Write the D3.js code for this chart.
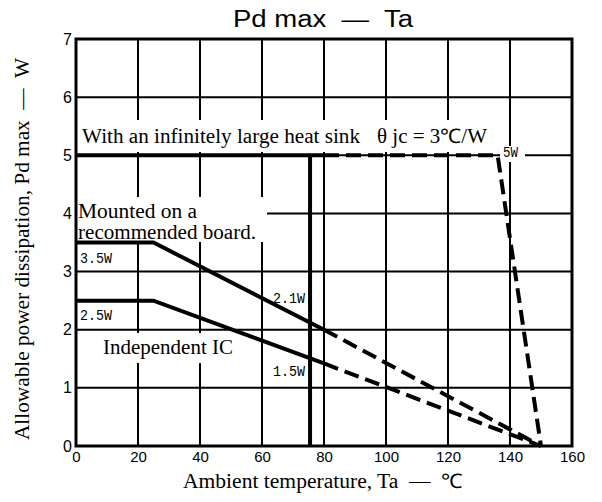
<!DOCTYPE html>
<html>
<head>
<meta charset="utf-8">
<script src="https://cdn.jsdelivr.net/npm/d3@7/dist/d3.min.js"></script>
<style>
  body { margin: 0; background: #fff; }
  text { white-space: pre; }
</style>
</head>
<body>
<div id="chart"></div>
<script>
// data
var xTicks = [0, 20, 40, 60, 80, 100, 120, 140, 160];
var yTicks = [0, 1, 2, 3, 4, 5, 6, 7];
var extraGridT = [80];

// infinite heat sink curve (solid up to 80, dashed after)
var sinkTemp = [0, 80, 136, 150];
var sinkPd = [5, 5, 5, 0];
// recommended board, 3.5W
var board35Temp = [0, 25, 80, 150];
var board35Pd = [3.5, 3.5, 2.0, 0];
// independent IC, 2.5W
var board25Temp = [0, 25, 80, 150];
var board25Pd = [2.5, 2.5, 1.42, 0];
var solidUpTo = 80;

// vertical marker near 75 degC
var markerTemp = [75.5, 75.5];
var markerPd = [0, 5];

var width = 602, height = 502;
var marginLeft = 76, marginTop = 39, plotW = 496, plotH = 407;

var svg = d3.select("#chart").append("svg")
    .attr("width", width)
    .attr("height", height);

var x = d3.scaleLinear().domain([0, 160]).range([marginLeft, marginLeft + plotW]);
var y = d3.scaleLinear().domain([0, 7]).range([marginTop + plotH, marginTop]);

var serif = "'Liberation Serif', 'Times New Roman', serif";
var sans = "'Liberation Sans', Arial, sans-serif";
var mono = "'Liberation Mono', 'DejaVu Sans Mono', monospace";

// grid
var grid = svg.append("g");
grid.selectAll("line.v")
    .data(xTicks.slice(1, -1).concat(extraGridT))
    .enter().append("line")
    .attr("x1", d => x(d)).attr("x2", d => x(d))
    .attr("y1", y(0)).attr("y2", y(7))
    .attr("stroke", "#000").attr("stroke-width", 2);
grid.selectAll("line.h")
    .data(yTicks.slice(1, -1))
    .enter().append("line")
    .attr("x1", x(0)).attr("x2", x(160))
    .attr("y1", d => y(d)).attr("y2", d => y(d))
    .attr("stroke", "#000").attr("stroke-width", 2);

// white boxes that cut the grid behind the notes
var boxes = [
  [80, 120, 492, 152],
  [76, 197, 267, 242],
  [100, 333, 237, 363],
  [500, 146, 525, 162]
];
svg.append("g").selectAll("rect")
    .data(boxes)
    .enter().append("rect")
    .attr("x", d => d[0]).attr("y", d => d[1])
    .attr("width", d => d[2] - d[0]).attr("height", d => d[3] - d[1])
    .attr("fill", "#fff");

function note(tx, ty, str, font, size, len) {
  var t = svg.append("text")
      .attr("x", tx).attr("y", ty)
      .attr("font-family", font)
      .attr("font-size", size)
      .text(str);
  if (len) t.attr("textLength", len).attr("lengthAdjust", "spacingAndGlyphs");
  return t;
}

// curves
var line = d3.line().x(d => x(d[0])).y(d => y(d[1]));
function drawCurve(temps, vals) {
  var pts = temps.map((t, i) => [t, vals[i]]);
  var solid = pts.filter(p => p[0] <= solidUpTo);
  var dashed = pts.filter(p => p[0] >= solidUpTo);
  svg.append("path").attr("d", line(solid))
      .attr("fill", "none").attr("stroke", "#000").attr("stroke-width", 4);
  svg.append("path").attr("d", line(dashed))
      .attr("fill", "none").attr("stroke", "#000").attr("stroke-width", 4)
      .attr("stroke-dasharray", "15,7");
}

drawCurve(sinkTemp, sinkPd);
drawCurve(board35Temp, board35Pd);
drawCurve(board25Temp, board25Pd);

svg.append("path")
    .attr("d", line(markerTemp.map((t, i) => [t, markerPd[i]])))
    .attr("stroke", "#000").attr("stroke-width", 4);

note(82, 143, "With an infinitely large heat sink", serif, 20, 278);
note(377, 143, "θ jc = 3℃/W", serif, 20, 110);
note(78, 217.5, "Mounted on a", serif, 20, 119);
note(78, 238.5, "recommended board.", serif, 20, 178);
note(103, 354, "Independent IC", serif, 20, 130);
note(503, 157, "5W", mono, 15, 15);
note(80, 263, "3.5W", mono, 15, 32);
note(80, 320, "2.5W", mono, 15, 32);
note(273, 302.5, "2.1W", mono, 15, 32);
note(273, 376, "1.5W", mono, 15, 32);

// frame
svg.append("rect")
    .attr("x", x(0)).attr("y", y(7))
    .attr("width", x(160) - x(0)).attr("height", y(0) - y(7))
    .attr("fill", "none").attr("stroke", "#000").attr("stroke-width", 3);

// axes
var xAxis = svg.append("g")
    .attr("transform", "translate(0," + (y(0) + 2) + ")")
    .call(d3.axisBottom(x).tickValues(xTicks).tickSize(0).tickPadding(3));
var yAxis = svg.append("g")
    .attr("transform", "translate(" + (x(0) - 3) + ",0)")
    .call(d3.axisLeft(y).tickValues(yTicks).tickFormat(d3.format("d")).tickSize(0).tickPadding(1));
[xAxis, yAxis].forEach(function(a) {
  a.select(".domain").remove();
  a.selectAll("text")
      .attr("font-family", sans)
      .attr("font-size", 15)
      .attr("fill", "#000");
});
yAxis.selectAll("text").attr("font-size", 16);

// titles
svg.append("text")
    .attr("x", 233).attr("y", 26.5)
    .attr("font-family", sans).attr("font-size", 23)
    .attr("textLength", 180).attr("lengthAdjust", "spacingAndGlyphs")
    .text("Pd max  —  Ta");

svg.append("text")
    .attr("x", 183).attr("y", 488)
    .attr("font-family", serif).attr("font-size", 20)
    .attr("textLength", 280).attr("lengthAdjust", "spacingAndGlyphs")
    .text("Ambient temperature, Ta  —  ℃");

svg.append("text")
    .attr("transform", "translate(29,440) rotate(-90)")
    .attr("font-family", serif).attr("font-size", 20)
    .attr("textLength", 382).attr("lengthAdjust", "spacingAndGlyphs")
    .text("Allowable power dissipation, Pd max  —  W");
</script>
</body>
</html>
